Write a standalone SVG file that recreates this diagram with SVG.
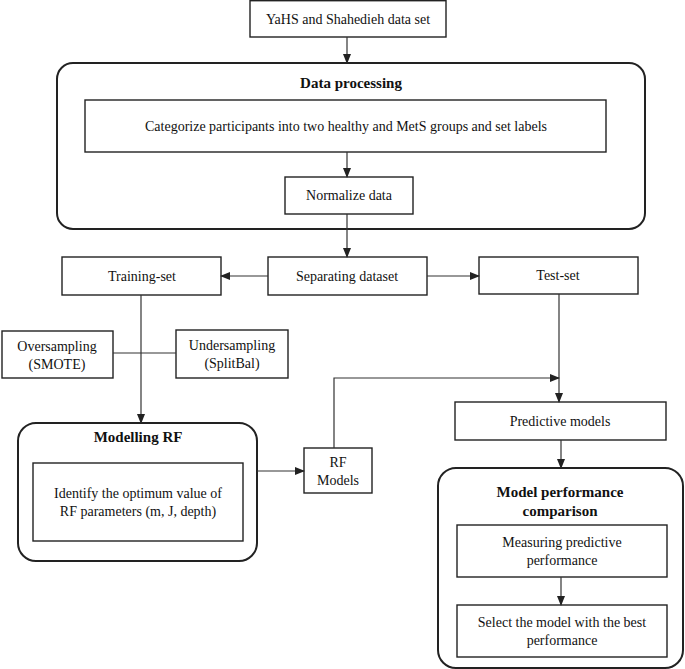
<svg xmlns="http://www.w3.org/2000/svg" width="685" height="669" viewBox="0 0 685 669">
<style>
.box{fill:#fff;stroke:#222;stroke-width:1.4}
.grp{fill:#fff;stroke:#222;stroke-width:2}
.ln{fill:none;stroke:#333;stroke-width:1.2}
text{font-family:"Liberation Serif","Times New Roman",serif;font-size:14px;fill:#111;text-anchor:middle}
.b{font-weight:bold;font-size:15px}
</style>
<defs>
<marker id="ah" markerWidth="10" markerHeight="8" refX="9" refY="4" orient="auto" markerUnits="userSpaceOnUse">
<path d="M0,0 L10,4 L0,8 Z" fill="#222"/>
</marker>
</defs>
<rect width="685" height="669" fill="#fff"/>
<g id="dataset">
<rect class="box" x="250" y="0.7" width="196" height="36.3"/>
<text x="348" y="24">YaHS and Shahedieh data set</text>
</g>
<g id="data-processing">
<rect class="grp" x="57" y="63" width="588" height="166" rx="16"/>
<text class="b" x="351" y="88">Data processing</text>
</g>
<g id="categorize">
<rect class="box" x="85" y="100" width="521" height="52"/>
<text x="346" y="131">Categorize participants into two healthy and MetS groups and set labels</text>
</g>
<g id="normalize">
<rect class="box" x="285" y="177" width="128" height="37"/>
<text x="349" y="200">Normalize data</text>
</g>
<g id="training">
<rect class="box" x="62" y="257" width="159" height="38"/>
<text x="142" y="281">Training-set</text>
</g>
<g id="separating">
<rect class="box" x="268" y="257" width="159" height="38"/>
<text x="347" y="281">Separating dataset</text>
</g>
<g id="test">
<rect class="box" x="479" y="257" width="159" height="37"/>
<text x="558" y="280">Test-set</text>
</g>
<g id="oversampling">
<rect class="box" x="2" y="331" width="111" height="47"/>
<text x="57" y="351">Oversampling</text>
<text x="57" y="369">(SMOTE)</text>
</g>
<g id="undersampling">
<rect class="box" x="176" y="330" width="112" height="48"/>
<text x="232" y="350">Undersampling</text>
<text x="232" y="368">(SplitBal)</text>
</g>
<g id="predictive">
<rect class="box" x="455" y="402" width="211" height="38"/>
<text x="560" y="426">Predictive models</text>
</g>
<g id="modelling-rf">
<rect class="grp" x="18" y="423" width="239" height="138" rx="18"/>
<text class="b" x="138" y="442">Modelling RF</text>
</g>
<g id="identify">
<rect class="box" x="33" y="463" width="210" height="78"/>
<text x="138" y="498">Identify the optimum value of</text>
<text x="138" y="516">RF parameters (m, J, depth)</text>
</g>
<g id="rf-models">
<rect class="box" x="304" y="448" width="68" height="45"/>
<text x="338" y="467">RF</text>
<text x="338" y="485">Models</text>
</g>
<g id="model-performance">
<rect class="grp" x="438" y="468" width="245" height="200" rx="18"/>
<text class="b" x="560" y="497">Model performance</text>
<text class="b" x="560" y="516">comparison</text>
</g>
<g id="measuring">
<rect class="box" x="457" y="525" width="210" height="52"/>
<text x="562" y="547">Measuring predictive</text>
<text x="562" y="565">performance</text>
</g>
<g id="select">
<rect class="box" x="457" y="605" width="210" height="52"/>
<text x="562" y="627">Select the model with the best</text>
<text x="562" y="645">performance</text>
</g>
<g id="connectors">
<line class="ln" x1="347" y1="37" x2="347" y2="63" marker-end="url(#ah)"/>
<line class="ln" x1="347" y1="152" x2="347" y2="177" marker-end="url(#ah)"/>
<line class="ln" x1="347" y1="214" x2="347" y2="257" marker-end="url(#ah)"/>
<line class="ln" x1="268" y1="276" x2="221" y2="276" marker-end="url(#ah)"/>
<line class="ln" x1="427" y1="276" x2="479" y2="276" marker-end="url(#ah)"/>
<line class="ln" x1="141" y1="295" x2="141" y2="423" marker-end="url(#ah)"/>
<line class="ln" x1="113" y1="353" x2="176" y2="353"/>
<line class="ln" x1="559" y1="294" x2="559" y2="402" marker-end="url(#ah)"/>
<polyline class="ln" points="334,448 334,378 559,378" marker-end="url(#ah)"/>
<line class="ln" x1="257" y1="471" x2="304" y2="471" marker-end="url(#ah)"/>
<line class="ln" x1="561" y1="440" x2="561" y2="468" marker-end="url(#ah)"/>
<line class="ln" x1="561" y1="577" x2="561" y2="605" marker-end="url(#ah)"/>
</g>
</svg>
